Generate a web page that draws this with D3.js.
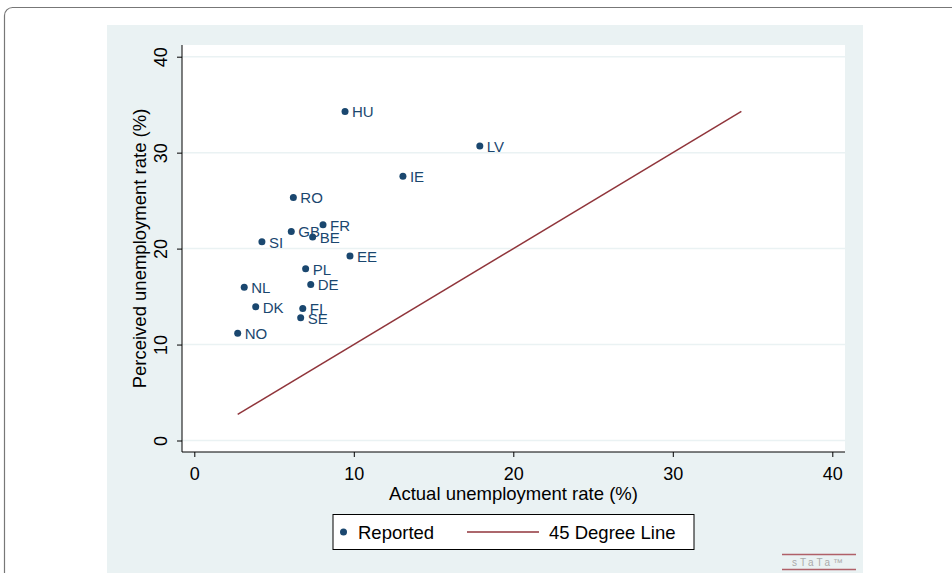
<!DOCTYPE html>
<html>
<head>
<meta charset="utf-8">
<script src="https://cdn.jsdelivr.net/npm/d3@7"></script>
<style>
  body { margin: 0; background: #fff; }
  svg { display: block; font-family: "Liberation Sans", Arial, sans-serif; }
</style>
</head>
<body>
<script>
var width = 952, height = 573;

// country codes and their rates (%)
var countries = ["HU", "LV", "IE", "RO", "FR", "GB", "BE", "SI", "EE", "PL", "DE", "NL", "DK", "FI", "SE", "NO"];
var actual =    [9.45, 17.9, 13.08, 6.21, 8.07, 6.08, 7.42, 4.24, 9.76, 6.98, 7.3, 3.13, 3.85, 6.8, 6.67, 2.72];
var perceived = [34.3, 30.7, 27.55, 25.33, 22.48, 21.79, 21.2, 20.71, 19.22, 17.9, 16.27, 15.96, 13.94, 13.76, 12.79, 11.17];

// 45 degree line ends
var lineEnds = [2.72, 34.3];

var xTicks = [0, 10, 20, 30, 40];
var yTicks = [0, 10, 20, 30, 40];

var navy = "#1a476f", maroon = "#90353b", bg = "#eaf2f3";

var svg = d3.select('body').append('svg').attr('width', width).attr('height', height);

// outer frame
svg.append('rect').attr('x', 4.5).attr('y', 7.5).attr('width', 1000).attr('height', 700)
  .attr('rx', 8).attr('fill', '#fff').attr('stroke', '#777').attr('stroke-width', 1.2);

// graph background
svg.append('rect').attr('x', 107).attr('y', 25).attr('width', 756).attr('height', 560).attr('fill', bg);

// plot region
var pLeft = 182, pRight = 845, pTop = 45, pBottom = 452;
svg.append('rect').attr('x', pLeft).attr('y', pTop).attr('width', pRight - pLeft).attr('height', pBottom - pTop).attr('fill', '#fff');

var x = d3.scaleLinear().domain([0, 40]).range([194.3, 832.3]);
var y = d3.scaleLinear().domain([0, 40]).range([440.5, 56.7]);

// gridlines
svg.append('g').selectAll('line').data(yTicks).join('line')
  .attr('x1', pLeft).attr('x2', pRight)
  .attr('y1', d => y(d)).attr('y2', d => y(d))
  .attr('stroke', bg).attr('stroke-width', 1.5);

// axes
var yAxis = svg.append('g').attr('transform', 'translate(' + pLeft + ',0)')
  .call(d3.axisLeft(y).tickValues(yTicks).tickSize(5).tickSizeOuter(0).tickFormat(d3.format('d')));
yAxis.select('.domain').attr('d', 'M0,' + pTop + 'V' + pBottom).attr('stroke', '#000');
yAxis.selectAll('.tick line').attr('stroke', '#000');
yAxis.selectAll('.tick text').attr('font-size', 18).attr('fill', '#000')
  .attr('transform', 'rotate(-90)').attr('x', 0).attr('y', -15).attr('dy', 0)
  .attr('text-anchor', 'middle');

var xAxis = svg.append('g').attr('transform', 'translate(0,' + pBottom + ')')
  .call(d3.axisBottom(x).tickValues(xTicks).tickSize(5).tickSizeOuter(0).tickFormat(d3.format('d')));
xAxis.select('.domain').attr('d', 'M' + pLeft + ',0H' + pRight).attr('stroke', '#000');
xAxis.selectAll('.tick text').attr('font-size', 18).attr('fill', '#000').attr('y', 28).attr('dy', 0);
xAxis.selectAll('.tick line').attr('stroke', '#000');

// axis titles
svg.append('text').attr('x', (pLeft + pRight) / 2).attr('y', 500).attr('text-anchor', 'middle')
  .attr('font-size', 18.5).text('Actual unemployment rate (%)');
svg.append('text').attr('transform', 'translate(146,' + ((pTop + pBottom) / 2) + ') rotate(-90)')
  .attr('text-anchor', 'middle').attr('font-size', 18.5).text('Perceived unemployment rate (%)');

// 45 degree line
svg.append('line')
  .attr('x1', x(lineEnds[0])).attr('y1', y(lineEnds[0]))
  .attr('x2', x(lineEnds[1])).attr('y2', y(lineEnds[1]))
  .attr('stroke', maroon).attr('stroke-width', 1.5);

// points + labels
var pts = countries.map(function(c, i) { return {name: c, a: actual[i], p: perceived[i]}; });
svg.append('g').selectAll('circle').data(pts).join('circle')
  .attr('cx', d => x(d.a)).attr('cy', d => y(d.p)).attr('r', 3.5).attr('fill', navy);
svg.append('g').selectAll('text').data(pts).join('text')
  .attr('x', d => x(d.a) + 7).attr('y', d => y(d.p) + 6)
  .attr('font-size', 15).attr('fill', navy).text(d => d.name);

// legend
var lg = svg.append('g');
lg.append('rect').attr('x', 333).attr('y', 514.5).attr('width', 361).attr('height', 35)
  .attr('fill', '#fff').attr('stroke', '#000').attr('stroke-width', 1);
lg.append('circle').attr('cx', 343.5).attr('cy', 532).attr('r', 3.5).attr('fill', navy);
lg.append('text').attr('x', 358).attr('y', 539).attr('font-size', 18.5).text('Reported');
lg.append('line').attr('x1', 467).attr('x2', 539).attr('y1', 532).attr('y2', 532)
  .attr('stroke', maroon).attr('stroke-width', 1.5);
lg.append('text').attr('x', 549).attr('y', 539).attr('font-size', 18.5).text('45 Degree Line');

// stata mark
var logo = svg.append('g');
logo.append('line').attr('x1', 782).attr('x2', 856).attr('y1', 554.5).attr('y2', 554.5).attr('stroke', '#b06068').attr('stroke-width', 1.5);
logo.append('line').attr('x1', 782).attr('x2', 856).attr('y1', 569.5).attr('y2', 569.5).attr('stroke', '#b06068').attr('stroke-width', 1.5);
logo.append('text').attr('x', 819).attr('y', 566).attr('text-anchor', 'middle')
  .attr('font-size', 10).attr('letter-spacing', 3).attr('fill', '#aaa').text('sTaTa™');

console.log('ready..');
</script>
</body>
</html>
